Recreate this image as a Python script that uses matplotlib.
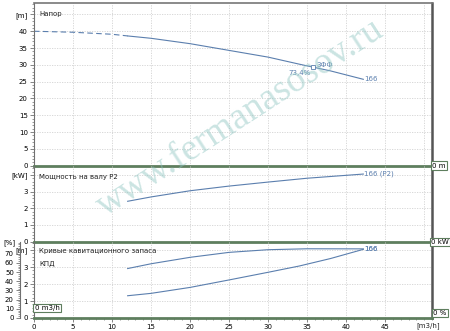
import matplotlib
matplotlib.use('Agg')
import matplotlib.pyplot as plt
from matplotlib.ticker import MultipleLocator

# ---- data ----
head_dash_q = [0, 5, 10, 12]
head_dash_h = [40.0, 39.7, 39.1, 38.6]
head_q = [12, 15, 20, 25, 30, 34, 35.8, 38, 42.2]
head_h = [38.6, 37.9, 36.3, 34.3, 32.3, 30.2, 29.3, 28.2, 25.7]
bep_q, bep_h = 35.8, 29.3

power_q = [12, 15, 20, 25, 30, 35, 42.2]
power_kw = [2.42, 2.68, 3.05, 3.33, 3.57, 3.8, 4.05]

eff_q = [12, 15, 20, 25, 30, 35, 42.2]
eff_pct = [53.8, 59.0, 66.0, 71.4, 74.3, 75.3, 75.2]

npsh_q = [12, 15, 20, 25, 30, 34, 38, 42.2]
npsh_m = [1.31, 1.45, 1.8, 2.24, 2.69, 3.06, 3.5, 4.04]

x_ticks = [0, 5, 10, 15, 20, 25, 30, 35, 40, 45]
head_ticks = [0, 5, 10, 15, 20, 25, 30, 35, 40, 45]
head_labels = ['0', '5', '10', '15', '20', '25', '30', '35', '40', '[m]']
power_ticks = [0, 1, 2, 3, 4]
power_labels = ['0', '1', '2', '3', '[kW]']
npsh_ticks = [0, 1, 2, 3, 4]
npsh_labels = ['0', '1', '2', '3', '[m]']
pct_ticks = [0, 10, 20, 30, 40, 50, 60, 70]

# ---- styles ----
W, H = 450, 331
CURVE = '#5b7fae'
GREEN = '#5e7e5e'
GRID = '#d2d2d2'
SPINE = '#707070'
FS = 5

fig = plt.figure(figsize=(W / 100, H / 100), dpi=100)
fig.patch.set_facecolor('white')

def rect(top_px, bot_px):
    return [34 / W, 1 - bot_px / H, 398 / W, (bot_px - top_px) / H]

ax_top = fig.add_axes(rect(3, 165.7))
ax_mid = fig.add_axes(rect(165.7, 241.7))
ax_bot = fig.add_axes(rect(241.7, 318))

for ax in (ax_top, ax_mid, ax_bot):
    ax.patch.set_visible(False)
    ax.set_xlim(0, 51)
    ax.xaxis.set_major_locator(MultipleLocator(5))
    ax.xaxis.set_minor_locator(MultipleLocator(1))
    ax.grid(True, which='major', color=GRID, linestyle=(0, (1.5, 1.5)), linewidth=0.6)
    ax.tick_params(axis='both', which='major', labelsize=FS, length=3, width=0.6,
                   color=SPINE, pad=1.5)
    ax.tick_params(axis='both', which='minor', length=1.5, width=0.5, color=SPINE)
    ax.spines['left'].set_color(SPINE)
    ax.spines['left'].set_linewidth(0.8)
    ax.spines['right'].set_color('#555555')
    ax.spines['right'].set_linewidth(1.8)
    ax.spines['top'].set_visible(False)
    ax.spines['bottom'].set_color(GREEN)
    ax.spines['bottom'].set_linewidth(2.0)
    ax.spines['bottom'].set_zorder(5)
    ax.set_axisbelow(True)

ax_top.spines['top'].set_visible(True)
ax_top.spines['top'].set_color('#777777')
ax_top.spines['top'].set_linewidth(1.2)

for ax in (ax_top, ax_mid):
    ax.tick_params(axis='x', which='both', bottom=False, labelbottom=False)

# top panel: head
ax_top.set_ylim(0, 48.4)
ax_top.set_yticks(head_ticks)
ax_top.set_yticklabels(head_labels)
ax_top.yaxis.set_minor_locator(MultipleLocator(1))
ax_top.plot(head_dash_q, head_dash_h, color=CURVE, lw=0.8, ls=(0, (5, 3)))
ax_top.plot(head_q, head_h, color=CURVE, lw=0.8)
ax_top.plot([bep_q], [bep_h], marker='s', ms=3, mfc='white', mec=CURVE, mew=0.6)
ax_top.text(bep_q - 0.3, bep_h - 1.6, '73,4%', fontsize=FS, color=CURVE, ha='right', va='center')
ax_top.text(bep_q + 0.4, bep_h + 0.8, '3ФФ', fontsize=FS, color=CURVE, ha='left', va='center')
ax_top.text(head_q[-1] + 0.1, head_h[-1], '166', fontsize=FS, color=CURVE, ha='left', va='center')
ax_top.text(0.7, 45, 'Напор', fontsize=FS, color='#222222', ha='left', va='center')

# middle: power
ax_mid.set_ylim(0, 4.55)
ax_mid.set_yticks(power_ticks)
ax_mid.set_yticklabels(power_labels)
ax_mid.yaxis.set_minor_locator(MultipleLocator(0.2))
ax_mid.plot(power_q, power_kw, color=CURVE, lw=0.8)
ax_mid.text(power_q[-1] + 0.1, power_kw[-1], '166 (P2)', fontsize=FS, color=CURVE, ha='left', va='center')
ax_mid.text(0.7, 3.9, 'Мощность на валу P2', fontsize=FS, color='#222222', ha='left', va='center')

# bottom: NPSH (m) and efficiency (%)
ax_bot.set_ylim(0, 4.49)
ax_bot.set_yticks(npsh_ticks)
ax_bot.set_yticklabels(npsh_labels)
ax_bot.yaxis.set_minor_locator(MultipleLocator(0.2))
ax_bot.set_xticks(x_ticks)
ax_bot.set_xticklabels([str(v) for v in x_ticks])
ax_bot.plot(npsh_q, npsh_m, color=CURVE, lw=0.8)
ax_bot.text(npsh_q[-1] + 0.1, npsh_m[-1], '166', fontsize=FS, color=CURVE, ha='left', va='center')
ax_bot.text(0.7, 3.95, 'Кривые кавитационного запаса', fontsize=FS, color='#222222', ha='left', va='center')
ax_bot.text(0.7, 3.2, 'КПД', fontsize=FS, color='#222222', ha='left', va='center')
ax_bot.text(50.5, -0.25, '[m3/h]', fontsize=FS, color='#222222', ha='center', va='top')

ax_pct = ax_bot.twinx()
ax_pct.patch.set_visible(False)
ax_pct.set_ylim(0, 83)
ax_pct.plot(eff_q, eff_pct, color=CURVE, lw=0.8)
ax_pct.text(eff_q[-1] + 0.1, eff_pct[-1], '166', fontsize=FS, color=CURVE, ha='left', va='center')
for s in ('top', 'right', 'bottom'):
    ax_pct.spines[s].set_visible(False)
ax_pct.spines['left'].set_visible(True)
ax_pct.spines['left'].set_position(('outward', 10))
ax_pct.spines['left'].set_color(SPINE)
ax_pct.spines['left'].set_linewidth(0.8)
ax_pct.yaxis.set_ticks_position('left')
ax_pct.yaxis.set_label_position('left')
ax_pct.set_yticks(pct_ticks)
ax_pct.yaxis.set_minor_locator(MultipleLocator(2))
ax_pct.tick_params(axis='y', which='major', labelsize=FS, length=3, width=0.6, color=SPINE, pad=1.5)
ax_pct.tick_params(axis='y', which='minor', length=1.5, width=0.5, color=SPINE)

fig.text(9 / W, 1 - 243 / H, '[%]', fontsize=FS, ha='center', va='center')

# green boxed labels
box = dict(boxstyle='square,pad=0.2', fc='white', ec=GREEN, lw=0.8)
fig.text(439 / W, 1 - 165.7 / H, '0 m', fontsize=FS, ha='center', va='center', bbox=box)
fig.text(440 / W, 1 - 242 / H, '0 kW', fontsize=FS, ha='center', va='center', bbox=box)
fig.text(440 / W, 1 - 313 / H, '0 %', fontsize=FS, ha='center', va='center', bbox=box)
fig.text(47 / W, 1 - 308 / H, '0 m3/h', fontsize=FS, ha='center', va='center', bbox=box)

# watermark
fig.text(240 / W, 1 - 118 / H, 'www.fermanasosov.ru', fontsize=27, family='Liberation Serif',
         color='#8cc4c0', alpha=0.45, rotation=33, ha='center', va='center',
         rotation_mode='anchor', zorder=0)

fig.savefig('out.png', dpi=100, facecolor='white')
